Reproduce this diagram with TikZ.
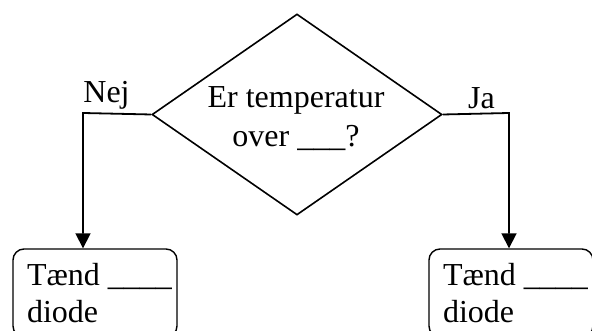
\documentclass[tikz,border=0pt]{standalone}
\usepackage{fontspec}
\setmainfont{Liberation Serif}
\usetikzlibrary{shapes.geometric,arrows.meta}
\newcommand{\boxline}[1]{\makebox[150pt][l]{\hspace*{7pt}#1}}
\begin{document}
\begin{tikzpicture}[x=1pt,y=1pt,
  txt/.style={font=\fontsize{32}{39}\selectfont, inner sep=0pt},
  decision/.style={diamond, draw, line width=1.6pt, minimum width=290pt, minimum height=201pt, inner sep=0pt, aspect=1.44},
  action/.style={draw, line width=1.4pt, rounded corners=11pt, minimum width=164pt, minimum height=88pt,
     inner xsep=7pt, inner ysep=0pt, align=left, font=\fontsize{32}{37}\selectfont},
  conn/.style={line width=1.8pt, -{Triangle[length=15pt,width=15pt]}}
]
\useasboundingbox (0,0) rectangle (592,331);
\clip (0,0) rectangle (592,331);
\node[decision] (q) at (297,216.5) {};
\node[txt, align=center] (qt) at (296,212) {Er temperatur\\over \_\_\_?};
\node[action] (l) at (95,38) {\boxline{Tænd \_\_\_\_}\\\boxline{diode}};
\node[action] (r) at (511,38) {\boxline{Tænd \_\_\_\_}\\\boxline{diode}};
\coordinate (lc) at (83,218);
\coordinate (rc) at (509,218);
\draw[conn] (q.west) -- (lc) -- (lc |- l.north);
\draw[conn] (q.east) -- (rc) -- (rc |- r.north);
\node[txt, anchor=base] (nej) at (106.5,228) {Nej};
\node[txt, anchor=base] (ja) at (481.5,222.5) {Ja};
\end{tikzpicture}
\end{document}
